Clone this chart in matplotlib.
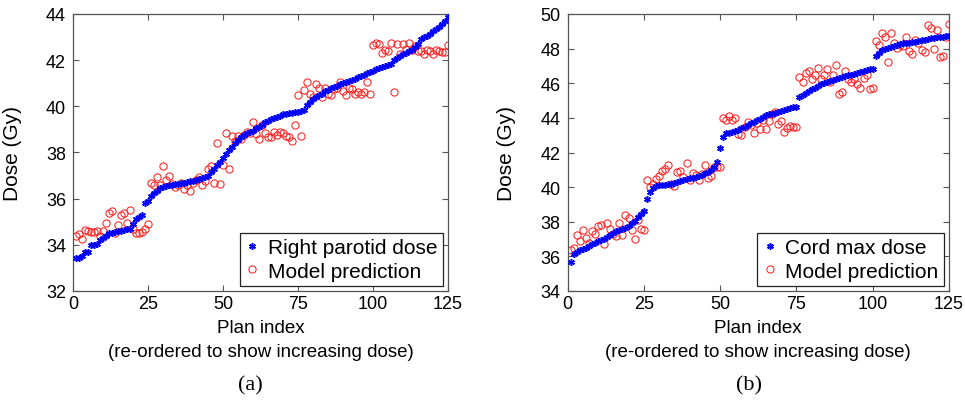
"""Dose vs plan index: measured dose and model prediction (two panels)."""

import matplotlib

matplotlib.use("Agg")
import matplotlib.pyplot as plt
import numpy as np

# ---- panel (a): right parotid ----
plan_idx = np.arange(1, 126)

parotid_dose = [
    33.45, 33.45, 33.5, 33.7, 33.7, 34.0, 34.0, 34.05, 34.2, 34.3,
    34.4, 34.5, 34.5, 34.55, 34.6, 34.6, 34.65, 34.7, 34.7, 34.9,
    35.1, 35.2, 35.3, 35.8, 35.9, 36.1, 36.25, 36.35, 36.45, 36.5,
    36.55, 36.6, 36.6, 36.65, 36.65, 36.7, 36.7, 36.72, 36.75, 36.78,
    36.8, 36.85, 36.9, 36.95, 37.0, 37.15, 37.3, 37.45, 37.6, 37.75,
    37.95, 38.1, 38.25, 38.4, 38.55, 38.65, 38.75, 38.85, 38.9, 38.95,
    39.05, 39.1, 39.2, 39.3, 39.35, 39.45, 39.5, 39.55, 39.6, 39.65,
    39.68, 39.7, 39.72, 39.74, 39.76, 39.78, 39.85, 40.05, 40.2, 40.3,
    40.4, 40.5, 40.55, 40.65, 40.7, 40.8, 40.85, 40.9, 40.95, 41.0,
    41.05, 41.1, 41.15, 41.2, 41.25, 41.3, 41.35, 41.45, 41.5, 41.55,
    41.6, 41.65, 41.7, 41.75, 41.8, 41.85, 42.0, 42.1, 42.2, 42.25,
    42.3, 42.4, 42.45, 42.55, 42.7, 42.9, 43.0, 43.05, 43.15, 43.25,
    43.35, 43.45, 43.55, 43.7, 43.85,
]
parotid_pred = [
    34.4, 34.45, 34.25, 34.65, 34.6, 34.55, 34.55, 34.6, 34.4, 34.6,
    34.95, 35.4, 35.45, 34.5, 34.85, 35.3, 35.4, 34.95, 35.5, 34.7,
    34.5, 34.5, 34.55, 34.7, 34.9, 36.7, 36.6, 36.95, 36.6, 37.4,
    36.8, 37.0, 36.65, 36.5, 36.6, 36.7, 36.4, 36.6, 36.35, 36.7,
    36.8, 36.95, 36.6, 36.75, 37.3, 37.4, 36.7, 38.4, 36.65, 37.45,
    38.85, 37.3, 38.7, 38.5, 38.7, 38.6, 38.75, 38.9, 38.85, 39.3,
    38.8, 38.6, 39.2, 38.85, 38.65, 38.65, 38.9, 38.75, 38.9, 38.85,
    38.7, 38.65, 38.5, 39.2, 40.5, 38.7, 40.7, 41.05, 40.55, 40.4,
    40.95, 40.8, 40.4, 40.8, 40.55, 40.5, 40.75, 40.8, 41.05, 40.65,
    40.5, 40.8, 40.75, 40.55, 40.6, 40.55, 40.6, 41.05, 40.55, 42.65,
    42.75, 42.7, 42.3, 42.45, 42.4, 42.75, 40.6, 42.7, 42.25, 42.7,
    42.5, 42.75, 42.45, 42.6, 42.4, 42.4, 42.25, 42.45, 42.4, 42.25,
    42.45, 42.4, 42.35, 42.35, 42.65,
]

# ---- panel (b): cord max ----
cord_dose = [
    35.65, 36.15, 36.25, 36.35, 36.4, 36.5, 36.6, 36.7, 36.8, 36.9,
    36.95, 37.0, 37.1, 37.25, 37.35, 37.45, 37.5, 37.6, 37.65, 37.75,
    37.9, 38.05, 38.25, 38.45, 38.6, 39.3, 39.7, 39.95, 40.05, 40.1,
    40.15, 40.15, 40.2, 40.2, 40.25, 40.3, 40.35, 40.4, 40.45, 40.5,
    40.55, 40.6, 40.65, 40.7, 40.8, 40.9, 41.0, 41.15, 41.45, 42.25,
    42.9, 43.1, 43.15, 43.2, 43.25, 43.3, 43.4, 43.5, 43.6, 43.7,
    43.75, 43.85, 43.95, 44.05, 44.15, 44.2, 44.25, 44.3, 44.35, 44.4,
    44.45, 44.5, 44.55, 44.6, 44.65, 45.2, 45.35, 45.45, 45.55, 45.65,
    45.75, 45.85, 45.95, 46.0, 46.1, 46.15, 46.2, 46.25, 46.3, 46.35,
    46.4, 46.45, 46.5, 46.55, 46.6, 46.65, 46.7, 46.75, 46.8, 46.85,
    47.55, 47.75, 47.9, 48.0, 48.05, 48.1, 48.15, 48.2, 48.25, 48.3,
    48.35, 48.35, 48.4, 48.4, 48.45, 48.5, 48.5, 48.55, 48.6, 48.6,
    48.65, 48.7, 48.7, 48.75, 48.75,
]
cord_pred = [
    36.35, 36.5, 37.25, 36.9, 37.55, 37.05, 36.75, 37.45, 37.3, 37.75,
    37.8, 36.7, 37.95, 37.6, 37.3, 37.15, 37.95, 37.25, 38.4, 38.2,
    37.55, 37.0, 38.1, 37.6, 37.55, 40.4, 40.0, 40.2, 40.45, 40.65,
    40.95, 41.05, 41.25, 40.2, 40.05, 40.9, 40.95, 40.6, 41.4, 40.4,
    40.8, 40.7, 40.4, 40.75, 41.3, 40.55, 40.65, 41.15, 41.15, 41.15,
    44.0, 43.85, 44.1, 43.85, 44.0, 43.05, 43.0, 43.5, 43.75, 43.6,
    43.15, 43.7, 43.35, 43.9, 43.35, 43.8, 44.2, 44.35, 43.65, 43.8,
    43.2, 43.4, 43.55, 43.45, 43.5, 46.35, 46.05, 46.6, 46.7, 46.25,
    46.45, 46.9, 46.25, 46.45, 46.8, 46.05, 46.5, 47.05, 45.4, 45.5,
    46.7, 46.25, 46.05, 46.25, 45.95, 45.75, 46.3, 46.45, 45.65, 45.7,
    48.45, 48.2, 48.9, 48.7, 47.25, 48.9, 48.35, 48.05, 48.2, 48.15,
    48.65, 47.85, 47.7, 48.5, 48.35, 47.9, 47.8, 49.35, 49.2, 48.0,
    49.1, 47.5, 47.55, 48.7, 49.4,
]

x_ticks = [0, 25, 50, 75, 100, 125]
a_yticks = [32, 34, 36, 38, 40, 42, 44]
b_yticks = [34, 36, 38, 40, 42, 44, 46, 48, 50]

XLABEL = "Plan index\n(re-ordered to show increasing dose)"
BLUE = "#0000ff"
RED = "#ff2020"
ASTERISK = (6, 2, 0)


def _style():
    plt.rcParams.update(
        {
            "font.family": ["Liberation Sans", "DejaVu Sans"],
            "figure.facecolor": "white",
            "axes.facecolor": "white",
            "axes.edgecolor": "#555555",
            "axes.linewidth": 0.9,
            "xtick.direction": "in",
            "ytick.direction": "in",
            "xtick.top": True,
            "ytick.right": True,
            "xtick.color": "#555555",
            "ytick.color": "#555555",
            "xtick.labelcolor": "black",
            "ytick.labelcolor": "black",
            "xtick.major.size": 4,
            "ytick.major.size": 4,
            "font.size": 12,
        }
    )


def _panel(ax, meas, pred, meas_label, yticks, tag, ylab_x):
    ax.plot(plan_idx, meas, ls="none", marker=ASTERISK, ms=4.8, mew=1.1,
            color=BLUE, label=meas_label, zorder=3)
    ax.plot(plan_idx, pred, ls="none", marker="o", ms=5.2, mew=0.75,
            mfc="none", mec=RED, label="Model prediction", zorder=2)
    ax.set_xlim(0, 125)
    ax.set_ylim(yticks[0], yticks[-1])
    ax.set_xticks(x_ticks)
    ax.set_yticks(yticks)
    ax.tick_params(axis="x", labelsize=13, pad=3)
    ax.tick_params(axis="y", labelsize=13, pad=5)
    ax.set_xlabel(XLABEL, fontsize=13.5, linespacing=1.5, labelpad=5)
    ax.set_ylabel("Dose (Gy)", fontsize=15)
    ax.yaxis.set_label_coords(ylab_x, 0.5)
    leg = ax.legend(loc="lower right", fontsize=15, frameon=True, fancybox=False,
                    edgecolor="#222222", framealpha=1, borderaxespad=0.25,
                    borderpad=0.25, labelspacing=0.2, handlelength=0.7,
                    handletextpad=0.4, markerscale=1.0)
    leg.get_frame().set_linewidth(0.9)
    pos = ax.get_position()
    ax.figure.text(pos.x0 + pos.width / 2 - 0.01, 0.06, tag, ha="center",
                   va="center", fontsize=16,
                   family=["Liberation Serif", "DejaVu Serif"])


_style()
fig = plt.figure(figsize=(9.65, 4.10), dpi=100)
ax_a = fig.add_axes([73 / 965, 118 / 410, 375 / 965, 277 / 410])
ax_b = fig.add_axes([567.5 / 965, 118 / 410, 381.5 / 965, 277 / 410])

_panel(ax_a, parotid_dose, parotid_pred, "Right parotid dose", a_yticks, "(a)", -0.135)
_panel(ax_b, cord_dose, cord_pred, "Cord max dose", b_yticks, "(b)", -0.135)

fig.savefig("out.png", dpi=100)
plt.close(fig)
